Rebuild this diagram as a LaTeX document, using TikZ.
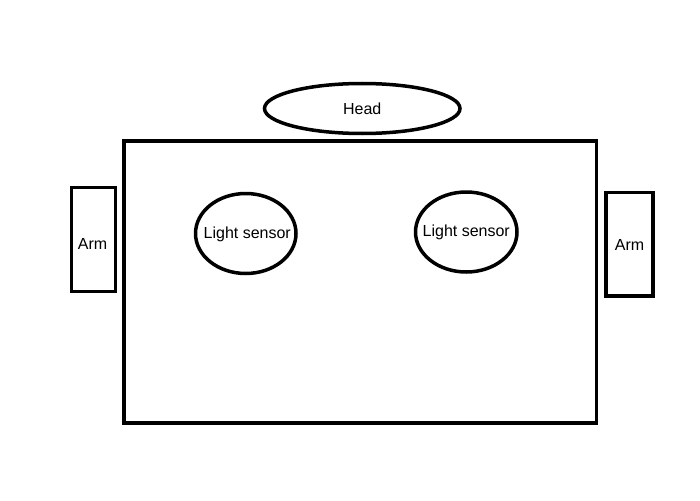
\documentclass[tikz,border=0pt]{standalone}
\usepackage{fontspec}
\setmainfont{Liberation Sans}
\usetikzlibrary{shapes.geometric}
\tikzset{
  part/.style={draw=black, line width=3.5pt, inner sep=0pt},
  oval/.style={part, ellipse},
  box/.style={part, rectangle},
  every label/.style={inner sep=0pt, font=\fontsize{16}{19}\selectfont},
}
\begin{document}
\begin{tikzpicture}[x=1pt,y=-1pt]
\useasboundingbox (0,0) rectangle (700,500);
\fill[white] (0,0) rectangle (700,500);
\node[box, minimum width=472.5pt, minimum height=282pt] (body) at (360.25,282) {};
\node[oval, minimum width=195.5pt, minimum height=50pt, label={center:Head}] (head) at (362.25,108.5) {};
\node[box, minimum width=44pt, minimum height=104pt, label={[xshift=-1pt,yshift=-4.5pt]center:Arm}] (armL) at (93.5,239.5) {};
\node[box, minimum width=47pt, minimum height=103.5pt, label={[yshift=-0.5pt]center:Arm}] (armR) at (629.5,244.25) {};
\node[oval, minimum width=100.5pt, minimum height=80pt, label={[xshift=1.5pt,yshift=-0.5pt]center:Light sensor}] (sensL) at (245.75,233.5) {};
\node[oval, minimum width=101.5pt, minimum height=80pt, label={center:Light sensor}] (sensR) at (466.25,232) {};
\end{tikzpicture}
\end{document}
